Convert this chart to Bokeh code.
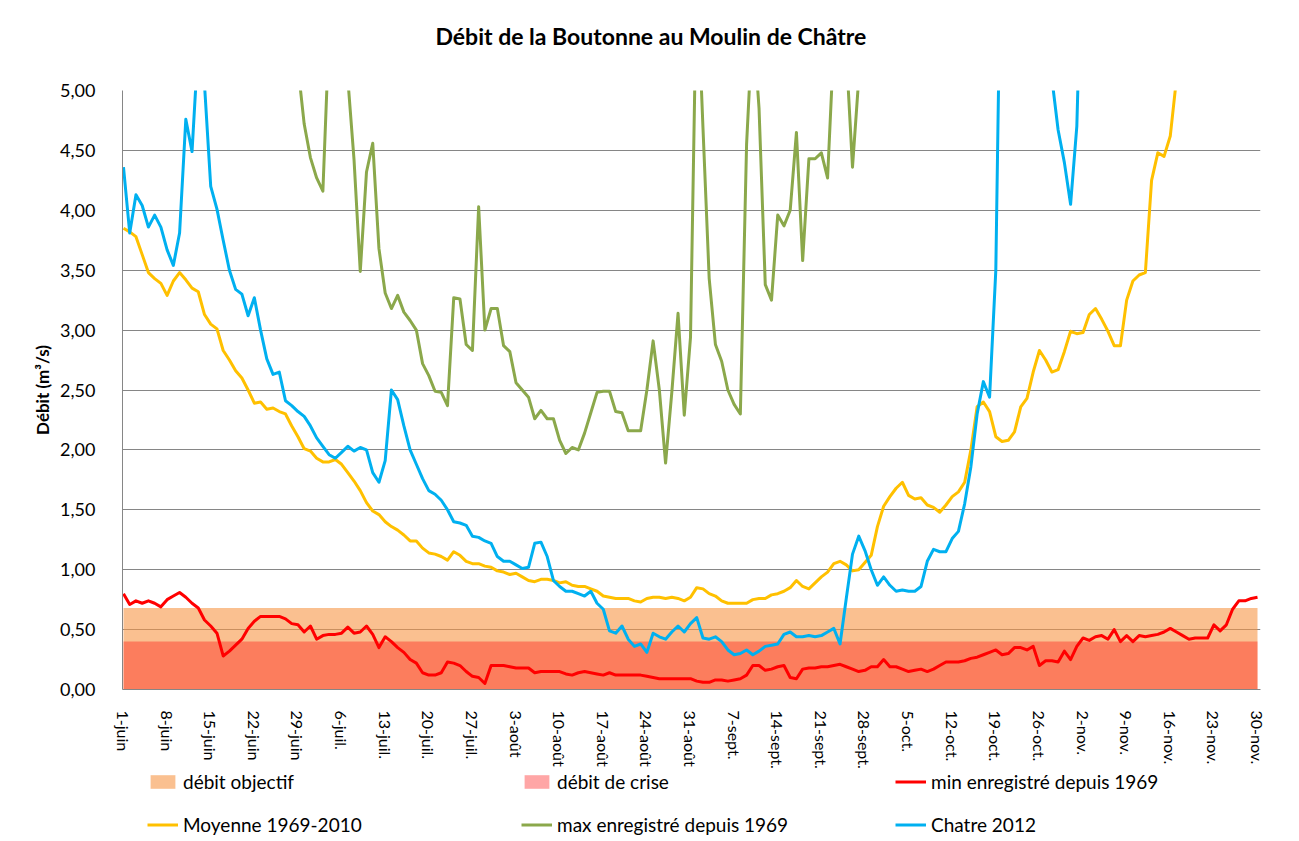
from bokeh.plotting import figure
from bokeh.layouts import column
from bokeh.models import (ColumnDataSource, FixedTicker, Legend, LegendItem, Range1d,
                          CustomJSTickFormatter, Label)
from bokeh.embed import file_html
from bokeh.resources import INLINE

# ---------------- data ----------------
title_text = "Débit de la Boutonne au Moulin de Châtre"
y_axis_title = "Débit (m³/s)"

# day index: 0 = 1 June ... 182 = 30 November
days = list(range(183))

x_tick_pos = list(range(0, 183, 7))
x_tick_labels = ["1-juin", "8-juin", "15-juin", "22-juin", "29-juin", "6-juil.",
                 "13-juil.", "20-juil.", "27-juil.", "3-août", "10-août", "17-août",
                 "24-août", "31-août", "7-sept.", "14-sept.", "21-sept.", "28-sept.",
                 "5-oct.", "12-oct.", "19-oct.", "26-oct.", "2-nov.", "9-nov.",
                 "16-nov.", "23-nov.", "30-nov."]

y_ticks = [0.0, 0.5, 1.0, 1.5, 2.0, 2.5, 3.0, 3.5, 4.0, 4.5, 5.0]
y_tick_labels = ["0,00", "0,50", "1,00", "1,50", "2,00", "2,50",
                 "3,00", "3,50", "4,00", "4,50", "5,00"]

debit_objectif = 0.68
debit_crise = 0.40

min_1969 = [
    0.80, 0.71, 0.74, 0.72, 0.74, 0.72, 0.69, 0.75, 0.78, 0.81,
    0.77, 0.72, 0.68, 0.58, 0.53, 0.47, 0.28, 0.32, 0.37, 0.42,
    0.51, 0.57, 0.61, 0.61, 0.61, 0.61, 0.59, 0.55, 0.54, 0.48,
    0.53, 0.42, 0.45, 0.46, 0.46, 0.47, 0.52, 0.47, 0.48, 0.53,
    0.46, 0.35, 0.44, 0.40, 0.35, 0.31, 0.25, 0.22, 0.14, 0.12,
    0.12, 0.14, 0.23, 0.22, 0.20, 0.15, 0.11, 0.10, 0.05, 0.20,
    0.20, 0.20, 0.19, 0.18, 0.18, 0.18, 0.14, 0.15, 0.15, 0.15,
    0.15, 0.13, 0.12, 0.14, 0.15, 0.14, 0.13, 0.12, 0.14, 0.12,
    0.12, 0.12, 0.12, 0.12, 0.11, 0.10, 0.09, 0.09, 0.09, 0.09,
    0.09, 0.09, 0.07, 0.06, 0.06, 0.08, 0.08, 0.07, 0.08, 0.09,
    0.12, 0.20, 0.20, 0.16, 0.17, 0.19, 0.20, 0.10, 0.09, 0.17,
    0.18, 0.18, 0.19, 0.19, 0.20, 0.21, 0.19, 0.17, 0.15, 0.16,
    0.19, 0.19, 0.25, 0.19, 0.19, 0.17, 0.15, 0.16, 0.17, 0.15,
    0.17, 0.20, 0.23, 0.23, 0.23, 0.24, 0.26, 0.27, 0.29, 0.31,
    0.33, 0.29, 0.30, 0.35, 0.35, 0.33, 0.36, 0.20, 0.24, 0.24,
    0.23, 0.32, 0.25, 0.36, 0.43, 0.41, 0.44, 0.45, 0.42, 0.50,
    0.40, 0.45, 0.40, 0.45, 0.44, 0.45, 0.46, 0.48, 0.51, 0.48,
    0.45, 0.42, 0.43, 0.43, 0.43, 0.54, 0.49, 0.54, 0.67, 0.74,
    0.74, 0.76, 0.77]

moyenne_1969_2010 = [
    3.85, 3.82, 3.78, 3.63, 3.48, 3.43, 3.39, 3.29, 3.41, 3.48,
    3.42, 3.35, 3.32, 3.13, 3.05, 3.01, 2.83, 2.75, 2.66, 2.60,
    2.50, 2.39, 2.40, 2.34, 2.35, 2.32, 2.30, 2.20, 2.11, 2.01,
    1.99, 1.93, 1.90, 1.90, 1.92, 1.88, 1.81, 1.74, 1.66, 1.56,
    1.49, 1.46, 1.40, 1.36, 1.33, 1.29, 1.24, 1.24, 1.18, 1.14,
    1.13, 1.11, 1.08, 1.15, 1.12, 1.07, 1.05, 1.05, 1.03, 1.02,
    0.99, 0.98, 0.96, 0.97, 0.94, 0.91, 0.90, 0.92, 0.92, 0.91,
    0.89, 0.90, 0.87, 0.86, 0.86, 0.84, 0.82, 0.78, 0.77, 0.76,
    0.76, 0.76, 0.74, 0.73, 0.76, 0.77, 0.77, 0.76, 0.77, 0.76,
    0.74, 0.77, 0.85, 0.84, 0.80, 0.78, 0.74, 0.72, 0.72, 0.72,
    0.72, 0.75, 0.76, 0.76, 0.79, 0.80, 0.82, 0.85, 0.91, 0.86,
    0.84, 0.89, 0.94, 0.98, 1.05, 1.07, 1.04, 0.99, 1.00, 1.06,
    1.12, 1.36, 1.53, 1.61, 1.68, 1.73, 1.62, 1.59, 1.60, 1.54,
    1.52, 1.48, 1.54, 1.61, 1.65, 1.73, 2.00, 2.36, 2.40, 2.32,
    2.11, 2.07, 2.08, 2.15, 2.36, 2.43, 2.65, 2.83, 2.75, 2.65,
    2.67, 2.82, 2.99, 2.97, 2.98, 3.13, 3.18, 3.09, 2.99, 2.87,
    2.87, 3.25, 3.41, 3.46, 3.48, 4.25, 4.48, 4.45, 4.62, 5.10,
    5.45, 5.70, 5.95, 6.20, 6.10, 6.40, 6.65, 6.90, 7.10, 7.30,
    7.50, 7.80, 8.00]

max_1969 = [
    7.2, 7.6, 8.1, 8.4, 8.0, 7.5, 7.9, 8.6, 9.2, 8.8,
    8.3, 7.8, 7.4, 7.0, 6.7, 7.1, 7.5, 7.2, 6.8, 6.5,
    6.3, 6.6, 6.4, 6.1, 5.9, 6.2, 5.8, 5.6, 5.20, 4.72,
    4.44, 4.27, 4.16, 5.50, 6.50, 6.00, 5.10, 4.42, 3.49, 4.32,
    4.56, 3.68, 3.31, 3.18, 3.29, 3.15, 3.08, 3.00, 2.72, 2.62,
    2.49, 2.48, 2.37, 3.27, 3.26, 2.88, 2.83, 4.03, 3.00, 3.18,
    3.18, 2.87, 2.82, 2.56, 2.50, 2.44, 2.26, 2.33, 2.26, 2.26,
    2.08, 1.97, 2.02, 2.00, 2.14, 2.31, 2.48, 2.49, 2.49, 2.32,
    2.31, 2.16, 2.16, 2.16, 2.50, 2.91, 2.50, 1.89, 2.48, 3.14,
    2.29, 2.94, 6.00, 4.69, 3.43, 2.88, 2.74, 2.50, 2.38, 2.30,
    4.55, 5.60, 4.85, 3.38, 3.25, 3.96, 3.87, 4.00, 4.65, 3.58,
    4.43, 4.43, 4.48, 4.27, 5.40, 6.00, 5.32, 4.36, 5.10, 5.60,
    6.2, 6.8, 7.1, 6.6, 6.9, 7.4, 7.9, 7.5, 7.0, 7.3,
    7.8, 8.3, 8.9, 9.4, 9.0, 8.6, 9.3, 10.1, 10.8, 11.5,
    12.2, 11.6, 11.0, 10.4, 9.9, 9.5, 10.2, 10.9, 11.4, 11.0,
    10.5, 10.0, 9.6, 9.2, 9.8, 10.4, 11.1, 11.8, 12.3, 11.9,
    11.4, 10.8, 10.3, 9.9, 10.5, 11.2, 11.9, 12.6, 13.2, 12.8,
    12.3, 11.7, 11.2, 10.8, 11.5, 12.1, 12.8, 13.4, 13.9, 13.5,
    13.0, 12.6, 12.2]

chatre_2012 = [
    4.36, 3.81, 4.13, 4.04, 3.86, 3.96, 3.86, 3.67, 3.54, 3.81,
    4.76, 4.49, 5.40, 5.05, 4.20, 4.01, 3.75, 3.50, 3.34, 3.30,
    3.12, 3.27, 3.00, 2.76, 2.63, 2.65, 2.41, 2.37, 2.32, 2.28,
    2.20, 2.10, 2.03, 1.96, 1.93, 1.98, 2.03, 1.99, 2.02, 2.00,
    1.81, 1.73, 1.91, 2.50, 2.42, 2.20, 2.00, 1.88, 1.76, 1.66,
    1.63, 1.58, 1.50, 1.40, 1.39, 1.37, 1.28, 1.27, 1.24, 1.22,
    1.11, 1.07, 1.07, 1.04, 1.01, 1.02, 1.22, 1.23, 1.11, 0.91,
    0.86, 0.82, 0.82, 0.80, 0.78, 0.82, 0.72, 0.67, 0.49, 0.47,
    0.53, 0.42, 0.36, 0.38, 0.31, 0.47, 0.44, 0.42, 0.48, 0.53,
    0.48, 0.55, 0.60, 0.43, 0.42, 0.44, 0.40, 0.33, 0.29, 0.30,
    0.33, 0.29, 0.32, 0.36, 0.37, 0.38, 0.46, 0.48, 0.44, 0.44,
    0.45, 0.44, 0.45, 0.48, 0.51, 0.38, 0.76, 1.13, 1.28, 1.16,
    1.00, 0.87, 0.94, 0.87, 0.82, 0.83, 0.82, 0.82, 0.86, 1.07,
    1.17, 1.15, 1.15, 1.26, 1.32, 1.55, 1.86, 2.30, 2.57, 2.44,
    3.50, 7.00, 9.20, 10.80, 11.50, 10.40, 9.10, 7.60, 6.20, 5.10,
    4.67, 4.40, 4.05, 4.70, 6.60, 8.40, 9.60, 10.20, 9.80, 9.10,
    8.50, 8.10, 7.70, 7.40, 7.20, 7.60, 8.30, 8.00, 7.50, 7.10,
    6.90, 6.60, 6.40, 6.30, 6.10, 6.00, 5.90, 6.20, 6.50, 6.30,
    6.10, 6.00, 5.80]

src = ColumnDataSource(dict(
    day=days,
    objectif=[debit_objectif] * len(days),
    crise=[debit_crise] * len(days),
    mini=min_1969,
    moy=moyenne_1969_2010,
    maxi=max_1969,
    chatre=chatre_2012,
))

# ---------------- styles ----------------
FONT = "Lato"
C_OBJ, A_OBJ = "#F79646", 0.6
C_CRISE, A_CRISE = "#FF0000", 0.35
C_MIN = "#FF0000"
C_MOY = "#FFC000"
C_MAX = "#8BA84B"
C_CHATRE = "#00B0F0"
LW = 3
W = 1296
TITLE_H = 60


def add_series(fig):
    r_obj = fig.varea(x="day", y1=0, y2="objectif", source=src,
                      fill_color=C_OBJ, fill_alpha=A_OBJ)
    r_crise = fig.varea(x="day", y1=0, y2="crise", source=src,
                        fill_color=C_CRISE, fill_alpha=A_CRISE)
    r_min = fig.line("day", "mini", source=src, line_color=C_MIN,
                     line_width=LW, line_join="round")
    r_moy = fig.line("day", "moy", source=src, line_color=C_MOY,
                     line_width=LW, line_join="round")
    r_max = fig.line("day", "maxi", source=src, line_color=C_MAX,
                     line_width=LW, line_join="round")
    r_chatre = fig.line("day", "chatre", source=src, line_color=C_CHATRE,
                        line_width=LW, line_join="round")
    return r_obj, r_crise, r_min, r_moy, r_max, r_chatre


def strip(height):
    # a plain band of the page (no axes) aligned with the chart's plot area
    f = figure(width=W, height=height, output_backend="svg", toolbar_location=None,
               x_range=Range1d(-20, -10), y_range=Range1d(-20, -10), min_border=0,
               x_axis_location=None, y_axis_location=None,
               background_fill_color="white", border_fill_color="white")
    f.outline_line_color = None
    f.xgrid.visible = False
    f.ygrid.visible = False
    return f


# ---------------- title strip ----------------
pt = strip(TITLE_H)
pt.add_layout(Label(x=313, y=TITLE_H - 35, x_units="screen", y_units="screen",
                    text=title_text, text_font=FONT, text_font_style="bold",
                    text_font_size="23px", text_color="black",
                    text_align="left", text_baseline="middle"))

# ---------------- main figure ----------------
p = figure(width=W, height=771 - TITLE_H, output_backend="svg", toolbar_location=None,
           x_range=Range1d(-0.16, 182.48), y_range=Range1d(0, 5),
           min_border_left=122, min_border_right=W - 1260,
           min_border_top=90 - TITLE_H, min_border_bottom=74,
           background_fill_color="white", border_fill_color="white")
p.outline_line_color = None
p.title.text = ""
p.title.visible = False

yax = p.yaxis[0]
yax.ticker = FixedTicker(ticks=y_ticks)
yax.formatter = CustomJSTickFormatter(
    args=dict(tick_vals=y_ticks, tick_texts=y_tick_labels),
    code="""
        for (let i = 0; i < tick_vals.length; i++) {
            if (Math.abs(tick_vals[i] - tick) < 1e-9) { return tick_texts[i] }
        }
        return tick.toFixed(2).replace('.', ',')
    """)
yax.axis_line_color = "#868686"
yax.major_tick_line_color = None
yax.minor_tick_line_color = None
yax.major_label_standoff = 21
yax.major_label_text_font = FONT
yax.major_label_text_font_size = "18px"
yax.major_label_text_color = "black"
yax.axis_label = y_axis_title
yax.axis_label_text_font = FONT
yax.axis_label_text_font_style = "bold"
yax.axis_label_text_font_size = "17px"
yax.axis_label_text_color = "black"
yax.axis_label_standoff = 4

xax = p.xaxis[0]
xax.ticker = FixedTicker(ticks=x_tick_pos)
xax.major_label_overrides = dict(zip(x_tick_pos, x_tick_labels))
xax.major_label_orientation = "vertical"
xax.axis_line_color = "#868686"
xax.major_tick_line_color = None
xax.minor_tick_line_color = None
xax.major_label_standoff = 15
xax.major_label_text_font = FONT
xax.major_label_text_font_size = "16px"
xax.major_label_text_color = "black"

p.xgrid.grid_line_color = None
p.ygrid.grid_line_color = "#868686"
p.ygrid.grid_line_width = 1

add_series(p)

# ---------------- legend strip ----------------
# same series, drawn outside this strip's visible ranges: only the legend shows
pl = strip(67)
l_obj, l_crise, l_min, l_moy, l_max, l_chatre = add_series(pl)

legend = Legend(items=[
    LegendItem(label="débit objectif", renderers=[l_obj]),
    LegendItem(label="débit de crise", renderers=[l_crise]),
    LegendItem(label="min enregistré depuis 1969", renderers=[l_min]),
    LegendItem(label="Moyenne 1969-2010", renderers=[l_moy]),
    LegendItem(label="max enregistré depuis 1969", renderers=[l_max]),
    LegendItem(label="Chatre 2012", renderers=[l_chatre]),
], orientation="horizontal", ncols=3,
    location=(25, 2),
    glyph_width=31, glyph_height=17, label_height=17, label_width=318,
    spacing=20, padding=0, margin=0, label_standoff=5,
    border_line_color=None, background_fill_alpha=0,
    label_text_font=FONT, label_text_font_size="19px", label_text_color="black")
pl.add_layout(legend)

layout = column(pt, p, pl, spacing=0)
open("out.html", "w").write(file_html(layout, INLINE))
